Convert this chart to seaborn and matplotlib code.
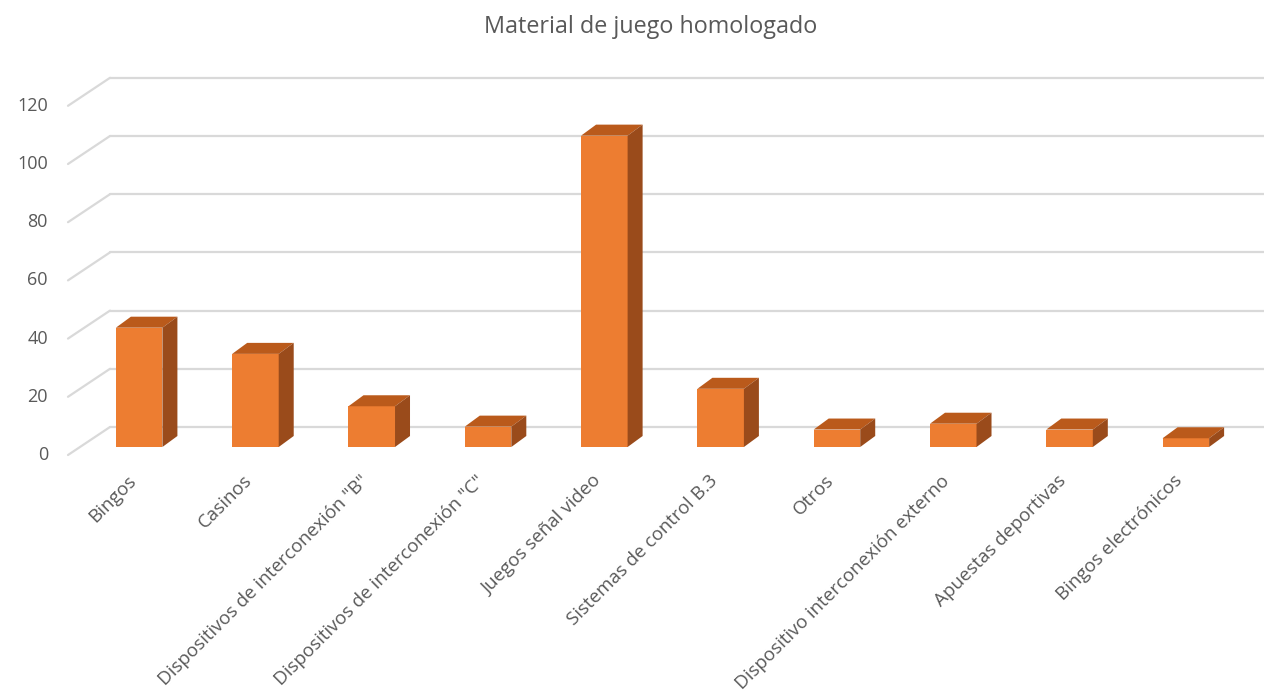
import numpy as np
import matplotlib
matplotlib.use("Agg")
import matplotlib.pyplot as plt
from matplotlib.patches import Polygon
import seaborn as sns

# data
categorias = ["Bingos", "Casinos", 'Dispositivos de interconexión "B"',
              'Dispositivos de interconexión "C"', "Juegos señal video",
              "Sistemas de control B.3", "Otros", "Dispositivo interconexión externo",
              "Apuestas deportivas", "Bingos electrónicos"]
valores = [41, 32, 14, 7, 107, 20, 6, 8, 6, 3]
ticks_y = [0, 20, 40, 60, 80, 100, 120]

naranja = "#ED7D31"
naranja_top = "#BA5A1B"
naranja_lado = "#9A4B1B"
gris = "#595959"

sns.set_style("white")
plt.rcParams["font.family"] = ["Open Sans", "DejaVu Sans"]

W, H = 1264, 699
fig = plt.figure(figsize=(W / 100, H / 100), dpi=100)
# axes: x from px 81 to 1244, y=0 at px 447, 2.91 px per unit
px_unit = 2.91
top_val = 125
ax = fig.add_axes([81 / W, (H - 447) / H, (1244 - 81) / W, top_val * px_unit / H])
ax.set_xlim(-0.5, 9.5)
ax.set_ylim(0, top_val)
ax.axis("off")

sns.barplot(x=categorias, y=valores, color=naranja, width=0.4, saturation=1,
            ax=ax, zorder=3, edgecolor="none")


def d2px(x, y):
    return ax.transData.transform((x, y))


def px2d(p):
    return ax.transData.inverted().transform(p)


# back wall gridlines + floor diagonals
for v in ticks_y:
    back_l = px2d(d2px(-0.5, v) + np.array([29, 20]))
    back_r = px2d(np.array([W + 5, d2px(0, v)[1] + 20]))
    front = px2d(d2px(-0.5, v) + np.array([-13, -8]))
    ax.plot([back_l[0], back_r[0]], [back_l[1], back_r[1]], color="#D9D9D9",
            lw=1.6, zorder=1, clip_on=False)
    ax.plot([front[0], back_l[0]], [front[1], back_l[1]], color="#D9D9D9",
            lw=1.6, zorder=1, clip_on=False)
    lab = px2d(d2px(-0.5, v) + np.array([-33, -8]))
    ax.text(lab[0], lab[1], str(v), ha="right", va="center",
            fontsize=13, color=gris)

# 3D top and side faces
dx, dy = 15, 11
for p in ax.patches:
    x0, w, h = p.get_x(), p.get_width(), p.get_height()
    off = np.array([dx, dy])
    a = d2px(x0, h)
    b = d2px(x0 + w, h)
    c = d2px(x0 + w, 0)
    top = [px2d(a), px2d(b), px2d(b + off), px2d(a + off)]
    lado = [px2d(c), px2d(b), px2d(b + off), px2d(c + off)]
    ax.add_patch(Polygon(top, closed=True, facecolor=naranja_top, edgecolor="none",
                         zorder=4, clip_on=False))
    ax.add_patch(Polygon(lado, closed=True, facecolor=naranja_lado, edgecolor="none",
                         zorder=4, clip_on=False))

# category labels
for i, cat in enumerate(categorias):
    pos = px2d(d2px(i, 0) + np.array([-6, -31]))
    ax.text(pos[0], pos[1], cat, rotation=45, rotation_mode="anchor",
            ha="right", va="center", fontsize=13.5, color=gris)

fig.text(651 / W, 1 - 27 / H, "Material de juego homologado", ha="center",
         va="center", fontsize=16.8, color=gris)

fig.savefig("out.png", dpi=100)
